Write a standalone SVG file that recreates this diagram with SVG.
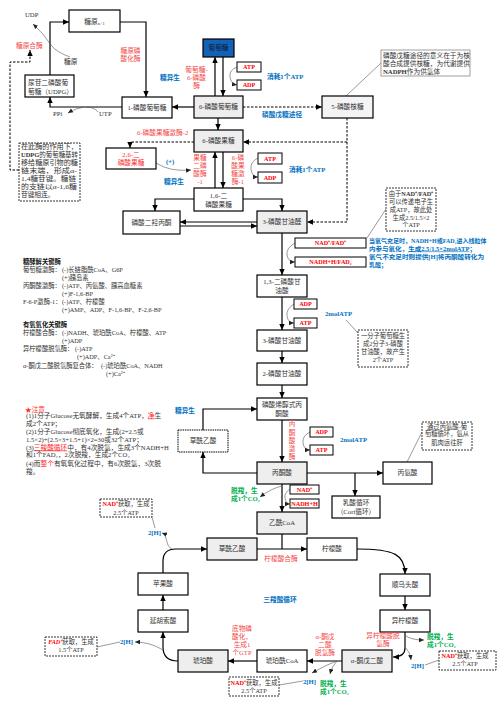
<svg xmlns="http://www.w3.org/2000/svg" width="497" height="703" viewBox="0 0 497 703">
<defs>
<marker id="ah" markerUnits="userSpaceOnUse" markerWidth="6" markerHeight="6" viewBox="0 0 10 10" refX="10" refY="5" orient="auto"><path d="M0,0.5 L10,5 L0,9.5 z" fill="#000"/></marker>
<marker id="as" markerUnits="userSpaceOnUse" markerWidth="5" markerHeight="5" viewBox="0 0 10 10" refX="10" refY="5" orient="auto"><path d="M0,0.5 L10,5 L0,9.5 z" fill="#222"/></marker>
</defs>
<style>
.b{fill:#fff;stroke:#000;stroke-width:1.2}
.g{fill:#eeeeee;stroke:#000;stroke-width:1.2}
.sb{fill:#fff;stroke:#000;stroke-width:1}
.nt{fill:#fff;stroke:#000;stroke-width:0.8;stroke-dasharray:2,1}
.t{font-family:"Liberation Serif","Noto Sans CJK SC",serif;font-size:6.7px;fill:#333}
.c{text-anchor:middle}
.en{fill:#f24a4a}
.rd{fill:#ff0000;font-weight:bold;font-size:6.2px}
.bl{fill:#0070c0;font-weight:bold}
.gr{fill:#00b050;font-weight:bold}
.k{font-size:6.3px}
.sm{font-size:6.3px}
.o2{font-size:6px}
.ln{fill:none;stroke:#000;stroke-width:1.2}
.dl{fill:none;stroke:#000;stroke-width:1;stroke-dasharray:2.5,1.5}
.th{fill:none;stroke:#555;stroke-width:0.6}
</style>
<rect width="497" height="703" fill="#fff"/>

<g id="connectors">
<path class="ln" d="M50,75 V22 H69" marker-end="url(#ah)"/>
<path class="ln" d="M120,22 H146 V97" marker-end="url(#ah)"/>
<path class="ln" d="M122,107 H50 V97" marker-end="url(#ah)"/>
<path class="ln" d="M215,96 V57" marker-end="url(#ah)"/>
<path class="ln" d="M223,57 V96" marker-end="url(#ah)"/>
<path class="ln" d="M194,107 H172" marker-end="url(#ah)"/>
<path class="dl" d="M243,107 H322" marker-end="url(#ah)"/>
<path class="ln" d="M218,118 V130" marker-end="url(#ah)"/>
<path class="dl" d="M347,118 V222 H307" marker-end="url(#ah)"/>
<path class="dl" d="M347,142 H243" marker-end="url(#ah)"/>
<path class="ln" d="M215,188 V152" marker-end="url(#ah)"/>
<path class="ln" d="M223,152 V188" marker-end="url(#ah)"/>
<path class="ln" d="M243,199 H282 V211" marker-end="url(#ah)"/>
<path class="ln" d="M194,199 H155 V211" marker-end="url(#ah)"/>
<path class="ln" d="M257,222 H180" marker-end="url(#ah)"/>
<path class="ln" d="M180,226 H257" marker-end="url(#ah)"/>
<path class="ln" d="M282,233 V275" marker-end="url(#ah)"/>
<path class="ln" d="M282,297 V330" marker-end="url(#ah)"/>
<path class="ln" d="M282,351 V363" marker-end="url(#ah)"/>
<path class="ln" d="M282,385 V398" marker-end="url(#ah)"/>
<path class="ln" d="M282,420 V462" marker-end="url(#ah)"/>
<path class="ln" d="M257,473 H203 V452" marker-end="url(#ah)"/>
<path class="ln" d="M203,430 V409 H257" marker-end="url(#ah)"/>
<path class="ln" d="M307,473 H383" marker-end="url(#ah)"/>
<path class="ln" d="M355,473 V496" marker-end="url(#ah)"/>
<path class="ln" d="M282,484 V512" marker-end="url(#ah)"/>
<path class="ln" d="M282,534 V549"/>
<path class="ln" d="M257,549 H307" marker-end="url(#ah)"/>
<path class="ln" d="M357,549 C395,549 405,555 405,574" marker-end="url(#ah)"/>
<path class="ln" d="M405,596 V610" marker-end="url(#ah)"/>
<path class="ln" d="M405,632 V648 Q405,657 393,657" marker-end="url(#ah)"/>
<path class="ln" d="M342,661 H307" marker-end="url(#ah)"/>
<path class="ln" d="M257,661 H228" marker-end="url(#ah)"/>
<path class="ln" d="M178,661 Q163,661 163,647 V632" marker-end="url(#ah)"/>
<path class="ln" d="M163,610 V595" marker-end="url(#ah)"/>
<path class="ln" d="M163,573 V561 Q163,549 176,549 H207" marker-end="url(#ah)"/>
<path class="dl" d="M19,170 H10 V62 H30 V50" marker-end="url(#ah)"/>
<path class="dl" d="M194,142 H130 V148" marker-end="url(#ah)"/>
<path class="th" d="M70,57 Q56,52 51,45 Q44,34 33,24" marker-end="url(#as)"/>
<path class="th" d="M98,112 Q94,107 86,107"/>
<path class="th" d="M84,107 Q76,108 68,113" marker-end="url(#as)"/>
<path class="th" d="M237,67 Q229,70 230,77 Q231,84 237,85" marker-end="url(#as)"/>
<path class="th" d="M258,158 Q250,162 251,169 Q252,177 258,177" marker-end="url(#as)"/>
<path class="th" d="M156,163 Q170,172 191,170" marker-end="url(#as)"/>
<path class="th" d="M295,243 Q286,248 287,255 Q288,262 295,262" marker-end="url(#as)"/>
<path class="th" d="M294,304 Q286,309 287,316 Q288,323 294,323" marker-end="url(#as)"/>
<path class="th" d="M310,432 Q302,436 303,443 Q304,450 310,450" marker-end="url(#as)"/>
<path class="th" d="M290,489 Q284,493 285,498 Q286,504 290,504" marker-end="url(#as)"/>
<path class="th" d="M282,486 Q272,488 260,497" marker-end="url(#as)"/>
<path class="th" d="M405,635 Q410,640 424,640" marker-end="url(#as)"/>
<path class="th" d="M406,648 Q410,652 411,660" marker-end="url(#as)"/>
<path class="th" d="M337,661 Q328,664 312,673" marker-end="url(#as)"/>
<path class="th" d="M337,661 Q332,666 330,674" marker-end="url(#as)"/>
<path class="th" d="M163,650 Q150,642 135,642" marker-end="url(#as)"/>
<path class="th" d="M172,549 C165,546 168,535 162,533" marker-end="url(#as)"/>
<path class="th" d="M381,63 L346,96"/>
<path class="th" d="M386,209 L367,238"/>
<path class="th" d="M346,320 L358,333"/>
<path class="th" d="M422,432 L407,462"/>
<path class="th" d="M152,517 L155,528"/>
<path class="th" d="M120,642 L97,647"/>
<path class="th" d="M425,665 L439,660"/>
<path class="th" d="M303,681 L279,685"/>
</g>

<g id="glycogen"><rect class="b" x="69" y="10" width="51" height="22"/><text class="t c" x="94.5" y="23.5">糖原<tspan font-size="4.5" dy="1">n+1</tspan></text></g>
<g id="udpg"><rect class="b" x="25" y="75" width="49" height="22"/><text class="t" x="28" y="84.5">尿苷二磷酸葡</text><text class="t" x="28" y="93.5">萄糖（UDPG）</text></g>
<g id="g1p"><rect class="b" x="122" y="97" width="50" height="21"/><text class="t c" x="147" y="110">1-磷酸葡萄糖</text></g>
<g id="glucose"><rect x="203" y="39" width="31" height="18" fill="#1362b8" stroke="#000" stroke-width="1.2"/><text class="t c" x="218.5" y="50.3" style="fill:#0d1b33">葡萄糖</text></g>
<g id="atp1"><rect class="sb" x="237" y="62" width="24" height="10"/><text class="t c rd" x="249" y="69.2">ATP</text></g>
<g id="adp1"><rect class="sb" x="237" y="80" width="24" height="10"/><text class="t c rd" x="249" y="87.2">ADP</text></g>
<g id="g6p"><rect class="g" x="194" y="96" width="49" height="22"/><text class="t c" x="218.5" y="109.3">6-磷酸葡萄糖</text></g>
<g id="r5p"><rect class="b" x="322" y="96" width="51" height="22" style="fill:#f4f4f4"/><text class="t c" x="347.5" y="109.3">5-磷酸核糖</text></g>
<g id="note-ppp"><rect x="381" y="50" width="89" height="26" fill="#fff" stroke="#888" stroke-width="0.8"/><text class="t" x="383" y="57.5">磷酸戊糖途径的意义在于为核</text><text class="t" x="383" y="65.5">酸合成提供核糖，为代谢提供</text><text class="t" x="383" y="73.5"><tspan font-weight="bold">NADPH</tspan>作为供氢体</text></g>
<g id="f6p"><rect class="g" x="194" y="130" width="49" height="22"/><text class="t c" x="218.5" y="143.3">6-磷酸果糖</text></g>
<g id="f26bp"><rect class="b" x="106" y="148" width="50" height="21"/><text class="t c" x="131" y="156.5" style="fill:#ff3030">2,6-二</text><text class="t c" x="131" y="165" style="fill:#ff3030">磷酸果糖</text></g>
<g id="atp2"><rect class="sb" x="258" y="153" width="24" height="11"/><text class="t c rd" x="270" y="160.7">ATP</text></g>
<g id="adp2"><rect class="sb" x="258" y="172" width="24" height="11"/><text class="t c rd" x="270" y="179.7">ADP</text></g>
<g id="f16bp"><rect class="b" x="194" y="188" width="49" height="23"/><text class="t c" x="218.5" y="197.5">1,6-二</text><text class="t c" x="218.5" y="206.5">磷酸果糖</text></g>
<g id="dhap"><rect class="b" x="123" y="211" width="57" height="23"/><text class="t c" x="151.5" y="224.8">磷酸二羟丙酮</text></g>
<g id="g3p"><rect class="g" x="257" y="211" width="50" height="22"/><text class="t c" x="282" y="224.3">3-磷酸甘油醛</text></g>
<g id="note-nad"><rect class="nt" x="386" y="188" width="50" height="43"/><text class="t c sm" x="411" y="195.5">由于<tspan font-weight="bold">NAD⁺/FAD⁺</tspan></text><text class="t c sm" x="411" y="203.5">可以传递电子生</text><text class="t c sm" x="411" y="211.5">成ATP，故此处</text><text class="t c sm" x="411" y="219.5">生成2.5/1.5×2</text><text class="t c sm" x="411" y="227">个ATP</text></g>
<g id="nad1"><rect class="sb" x="295" y="238" width="71" height="10"/><text class="t c rd" x="330.5" y="245.2">NAD⁺/FAD⁺</text></g>
<g id="nadh1"><rect class="sb" x="295" y="257" width="71" height="10"/><text class="t c rd" x="330.5" y="264.2">NADH+H/FAD₂</text></g>
<g id="note-o2"><text class="t bl o2" x="369" y="242.5">当氧气充足时，NADH+H或FAD₂进入线粒体</text><text class="t bl o2" x="369" y="250.5" textLength="107" lengthAdjust="spacingAndGlyphs">内参与氧化，<tspan text-decoration="underline">生成2.5/1.5×2molATP</tspan>；</text><text class="t bl o2" x="369" y="258.5" textLength="115" lengthAdjust="spacingAndGlyphs">氧气不充足时则提供[H]将丙酮酸转化为</text><text class="t bl o2" x="369" y="266.5">乳酸；</text></g>
<g id="bpg13"><rect class="b" x="257" y="275" width="50" height="22"/><text class="t c" x="282" y="284.3">1,3-二磷酸甘</text><text class="t c" x="282" y="293.3">油酸</text></g>
<g id="adp3"><rect class="sb" x="294" y="299" width="23" height="10"/><text class="t c rd" x="305.5" y="306.2">ADP</text></g>
<g id="atp3"><rect class="sb" x="294" y="318" width="23" height="10"/><text class="t c rd" x="305.5" y="325.2">ATP</text></g>
<text class="t bl" x="325" y="315.5">2molATP</text>
<g id="pg3"><rect class="b" x="257" y="330" width="50" height="21"/><text class="t c" x="282" y="342.8">3-磷酸甘油酸</text></g>
<g id="note-3pg"><rect class="nt" x="358" y="330" width="50" height="37"/><text class="t c sm" x="383" y="337.5">一分子葡萄糖生</text><text class="t c sm" x="383" y="345.5">成2分子3-磷酸</text><text class="t c sm" x="383" y="353.5">甘油酸，故产生</text><text class="t c sm" x="383" y="361.8">2个ATP</text></g>
<g id="pg2"><rect class="b" x="257" y="363" width="50" height="22"/><text class="t c" x="282" y="376.3">2-磷酸甘油酸</text></g>
<g id="pep"><rect class="b" x="257" y="398" width="50" height="22"/><text class="t c" x="282" y="407.3">磷酸烯醇式丙</text><text class="t c" x="282" y="416.3">酮酸</text></g>
<text class="t bl" x="175" y="413.3">糖异生</text>
<g id="oaa1"><rect x="178" y="430" width="50" height="22" fill="#fff" stroke="#000" stroke-width="1" stroke-dasharray="1.5,0.8"/><text class="t c" x="203" y="443.3">草酰乙酸</text></g>
<g id="pk-label"><text class="t c en" x="292" y="426.3">丙</text><text class="t c en" x="292" y="434.5">酮</text><text class="t c en" x="292" y="442.7">酸</text><text class="t c en" x="292" y="450.9">激</text><text class="t c en" x="292" y="459.1">酶</text></g>
<g id="adp4"><rect class="sb" x="310" y="427" width="23" height="10"/><text class="t c rd" x="321.5" y="434.2">ADP</text></g>
<g id="atp4"><rect class="sb" x="310" y="445" width="23" height="10"/><text class="t c rd" x="321.5" y="452.2">ATP</text></g>
<text class="t bl" x="340" y="442.3">2molATP</text>
<g id="note-ala"><rect class="nt" x="422" y="422" width="50" height="28"/><text class="t c sm" x="447" y="428.5">通过丙氨酸-葡</text><text class="t c sm" x="447" y="436.3">萄糖循环，氨从</text><text class="t c sm" x="447" y="444.5">肌肉运往肝</text></g>
<g id="pyruvate"><rect class="g" x="257" y="462" width="50" height="22"/><text class="t c" x="282" y="475.3">丙酮酸</text></g>
<g id="alanine"><rect class="b" x="383" y="462" width="49" height="22"/><text class="t c" x="407.5" y="475.3">丙氨酸</text></g>
<g id="lactate"><rect class="b" x="332" y="496" width="48" height="22"/><text class="t c" x="356" y="505.2">乳酸循环</text><text class="t c" x="356" y="514.2">（Cori循环）</text></g>
<g id="nad4"><rect class="sb" x="290" y="485" width="29" height="9"/><text class="t c rd" x="304.5" y="491.8">NAD⁺</text></g>
<g id="nadh4"><rect class="sb" x="290" y="499" width="29" height="9"/><text class="t c rd" x="304.5" y="505.8">NADH+H</text></g>
<text class="t gr" x="231" y="493.3">脱羧，生</text><text class="t gr" x="231" y="501.3">成1个CO₂</text>
<g id="acetylcoa"><rect class="g" x="257" y="512" width="50" height="22"/><text class="t c" x="282" y="525.3">乙酰CoA</text></g>
<g id="note-acetyl"><rect class="nt" x="100" y="499" width="52" height="18"/><text class="t c sm" x="126" y="506.2"><tspan class="rd">NAD⁺</tspan>获取，生成</text><text class="t c sm" x="126" y="514.5">2.5个ATP</text></g>
<text class="t bl" x="148" y="535.3">2[H]</text>
<g id="oaa2"><rect class="g" x="207" y="538" width="50" height="22"/><text class="t c" x="232" y="551.3">草酰乙酸</text></g>
<g id="citrate"><rect class="b" x="307" y="538" width="50" height="22"/><text class="t c" x="332" y="551.3">柠檬酸</text></g>
<text class="t c en" x="281" y="561.3">柠檬酸合酶</text>
<g id="malate"><rect class="b" x="138" y="573" width="50" height="22"/><text class="t c" x="163" y="586.3">苹果酸</text></g>
<g id="cisaconitate"><rect class="b" x="380" y="574" width="50" height="22"/><text class="t c" x="405" y="587.3">顺乌头酸</text></g>
<text class="t c bl" x="280" y="602.3">三羧酸循环</text>
<g id="fumarate"><rect class="b" x="138" y="610" width="50" height="22"/><text class="t c" x="163" y="623.3">延胡索酸</text></g>
<g id="isocitrate"><rect class="b" x="380" y="610" width="50" height="22"/><text class="t c" x="405" y="623.3">异柠檬酸</text></g>
<g id="note-fad"><rect class="nt" x="45" y="637" width="52" height="19"/><text class="t c sm" x="71" y="644.3"><tspan class="rd" font-style="italic">FAD⁺</tspan>获取，生成</text><text class="t c sm" x="71" y="652.3">1.5个ATP</text></g>
<text class="t bl" x="120" y="644.3">2[H]</text>
<g id="succinate"><rect class="g" x="178" y="650" width="50" height="22"/><text class="t c" x="203" y="663.3">琥珀酸</text></g>
<g id="succinylcoa"><rect class="b" x="257" y="650" width="50" height="22"/><text class="t c" x="282" y="663.3">琥珀酰CoA</text></g>
<g id="akg"><rect class="g" x="342" y="650" width="50" height="22"/><text class="t c" x="367" y="663.3">α-酮戊二酸</text></g>
<g id="lbl-gtp"><text class="t c en" x="242" y="630.5">底物磷</text><text class="t c en" x="242" y="638.5">酸化，</text><text class="t c en" x="242" y="646.8">生成1</text><text class="t c en" x="242" y="654.5">个GTP</text></g>
<g id="lbl-akgdh"><text class="t c en" x="325" y="639">α-酮戊</text><text class="t c en" x="325" y="647">二酸</text><text class="t c en" x="325" y="655">脱氢酶</text></g>
<g id="lbl-idh"><text class="t c en" x="383" y="638.3">异柠檬酸脱</text><text class="t c en" x="383" y="646.3">氢酶</text></g>
<text class="t gr" x="427" y="639.3">脱羧，生</text><text class="t gr" x="427" y="647.3">成1个CO₂</text>
<text class="t bl" x="411" y="667.5">2[H]</text>
<g id="note-nad-r"><rect class="nt" x="439" y="651" width="57" height="19"/><text class="t c sm" x="465" y="657.8"><tspan class="rd">NAD⁺</tspan>获取，生成</text><text class="t c sm" x="465" y="666">2.5个ATP</text></g>
<text class="t bl" x="303" y="683.5">2[H]</text>
<text class="t gr" x="320" y="685.5">脱羧，生</text><text class="t gr" x="320" y="693.5">成1个CO₂</text>
<g id="note-nad-b"><rect class="nt" x="229" y="677" width="50" height="19"/><text class="t c sm" x="254" y="684.5"><tspan class="rd">NAD⁺</tspan>获取，生成</text><text class="t c sm" x="254" y="692.5">2.5个ATP</text></g>

<g id="labels-top">
<text class="t" x="25" y="16.5" font-size="6">UDP</text>
<text class="t en" x="16" y="47.5">糖原合酶</text>
<text class="t" x="64" y="64">糖原</text>
<text class="t c en" x="130.5" y="53.3">糖原磷</text><text class="t c en" x="130.5" y="61.3">酸化酶</text>
<text class="t" x="53" y="116.3">PPi</text>
<text class="t" x="99" y="116.3">UTP</text>
<text class="t bl" x="160" y="80.3">糖异生</text>
<text class="t c en" x="196.5" y="71.5">葡萄糖-</text><text class="t c en" x="196.5" y="79.7">6-磷酸</text><text class="t c en" x="196.5" y="87.7">酶</text>
<text class="t bl" x="267" y="79.3">消耗1个ATP</text>
<text class="t bl" x="262" y="117.3">磷酸戊糖途径</text>
<text class="t en" x="137" y="135.3">6-磷酸果糖激酶-2</text>
<text class="t bl" x="166" y="163.5">(+)</text>
<text class="t bl" x="164" y="183.5">糖异生</text>
<text class="t c en" x="200" y="160.3">果糖</text><text class="t c en" x="200" y="168.3">二磷</text><text class="t c en" x="200" y="176.3">酸酶</text><text class="t c en" x="200" y="184.3">-1</text>
<text class="t c en" x="238" y="160.3">6-磷</text><text class="t c en" x="238" y="168.3">酸果</text><text class="t c en" x="238" y="176.3">糖激</text><text class="t c en" x="238" y="184.3">酶-1</text>
<text class="t bl" x="289" y="172.3">消耗1个ATP</text>
</g>

<g id="note-glycogen"><rect class="nt" x="19" y="143" width="61" height="58"/>
<text class="t" x="21" y="148.8" textLength="57" lengthAdjust="spacingAndGlyphs">在此酶的作用下，</text>
<text class="t" x="21" y="156.8" textLength="57" lengthAdjust="spacingAndGlyphs"><tspan font-weight="bold">UDPG</tspan>的葡萄糖基转</text>
<text class="t" x="21" y="164.8" textLength="57" lengthAdjust="spacingAndGlyphs">移给糖原引物的糖</text>
<text class="t" x="21" y="173" textLength="56" lengthAdjust="spacingAndGlyphs">链末端，形成α-</text>
<text class="t" x="21" y="181.2" textLength="55" lengthAdjust="spacingAndGlyphs">1,4糖苷键。糖链</text>
<text class="t" x="21" y="189.2" textLength="56" lengthAdjust="spacingAndGlyphs">的支链以α-1,6糖</text>
<text class="t" x="21" y="197">苷键相连。</text>
</g>

<g id="key-enzymes">
<text class="t k" x="23" y="264.3" font-weight="bold" style="fill:#111">糖酵解关键酶</text>
<text class="t k" x="23" y="272.3">葡萄糖激酶：<tspan x="62">(-)长链脂酰CoA、G6P</tspan></text>
<text class="t k" x="62" y="280.3">(+)胰岛素</text>
<text class="t k" x="23" y="288.3">丙酮酸激酶：<tspan x="62">(-)ATP、丙氨酸、胰高血糖素</tspan></text>
<text class="t k" x="62" y="296.3">(+)F-1,6-BP</text>
<text class="t k" x="23" y="304.3">F-6-P激酶-1：<tspan x="62">(-)ATP、柠檬酸</tspan></text>
<text class="t k" x="62" y="312.3">(+)AMP、ADP、F-1,6-BP、F-2,6-BP</text>
<text class="t k" x="23" y="327.3" font-weight="bold" style="fill:#111">有氧氧化关键酶</text>
<text class="t k" x="23" y="335.3">柠檬酸合酶：<tspan x="62">(-)NADH、琥珀酰CoA、柠檬酸、ATP</tspan></text>
<text class="t k" x="62" y="343.3">(+)ADP</text>
<text class="t k" x="23" y="351.3">异柠檬酸脱氢酶：<tspan x="75">(-)ATP</tspan></text>
<text class="t k" x="77" y="359.3">(+)ADP、Ca²⁺</text>
<text class="t k" x="23" y="368">α-酮戊二酸脱氢酶复合体：<tspan x="101">(-)琥珀酰CoA、NADH</tspan></text>
<text class="t k" x="106" y="376">(+)Ca²⁺</text>
</g>

<g id="notice">
<text class="t" x="25" y="411.5" style="fill:#ff3030">★注意</text>
<text class="t" x="26" y="417.5">(1)1分子Glucose无氧酵解，生成4个ATP，<tspan style="fill:#ff2020" text-decoration="underline">净</tspan>生</text>
<text class="t" x="26" y="425.5">成2个ATP；</text>
<text class="t" x="26" y="433.5">(2)1分子Glucose彻底氧化，生成(2+2.5或</text>
<text class="t" x="26" y="441.5">1.5×2)+(2.5×3+1.5+1)×2=30或32个ATP；</text>
<text class="t" x="26" y="449.5">(3)<tspan style="fill:#ff2020" text-decoration="underline">三羧酸循环</tspan>中，有4次脱氢，生成3个NADH+H</text>
<text class="t" x="26" y="457.3">和1个FAD₂，2次脱羧，生成2个CO₂</text>
<text class="t" x="26" y="465.5">(4)而<tspan style="fill:#ff2020">整个</tspan>有氧氧化过程中，有6次脱氢，3次脱</text>
<text class="t" x="26" y="473.5">羧。</text>
</g>
</svg>
